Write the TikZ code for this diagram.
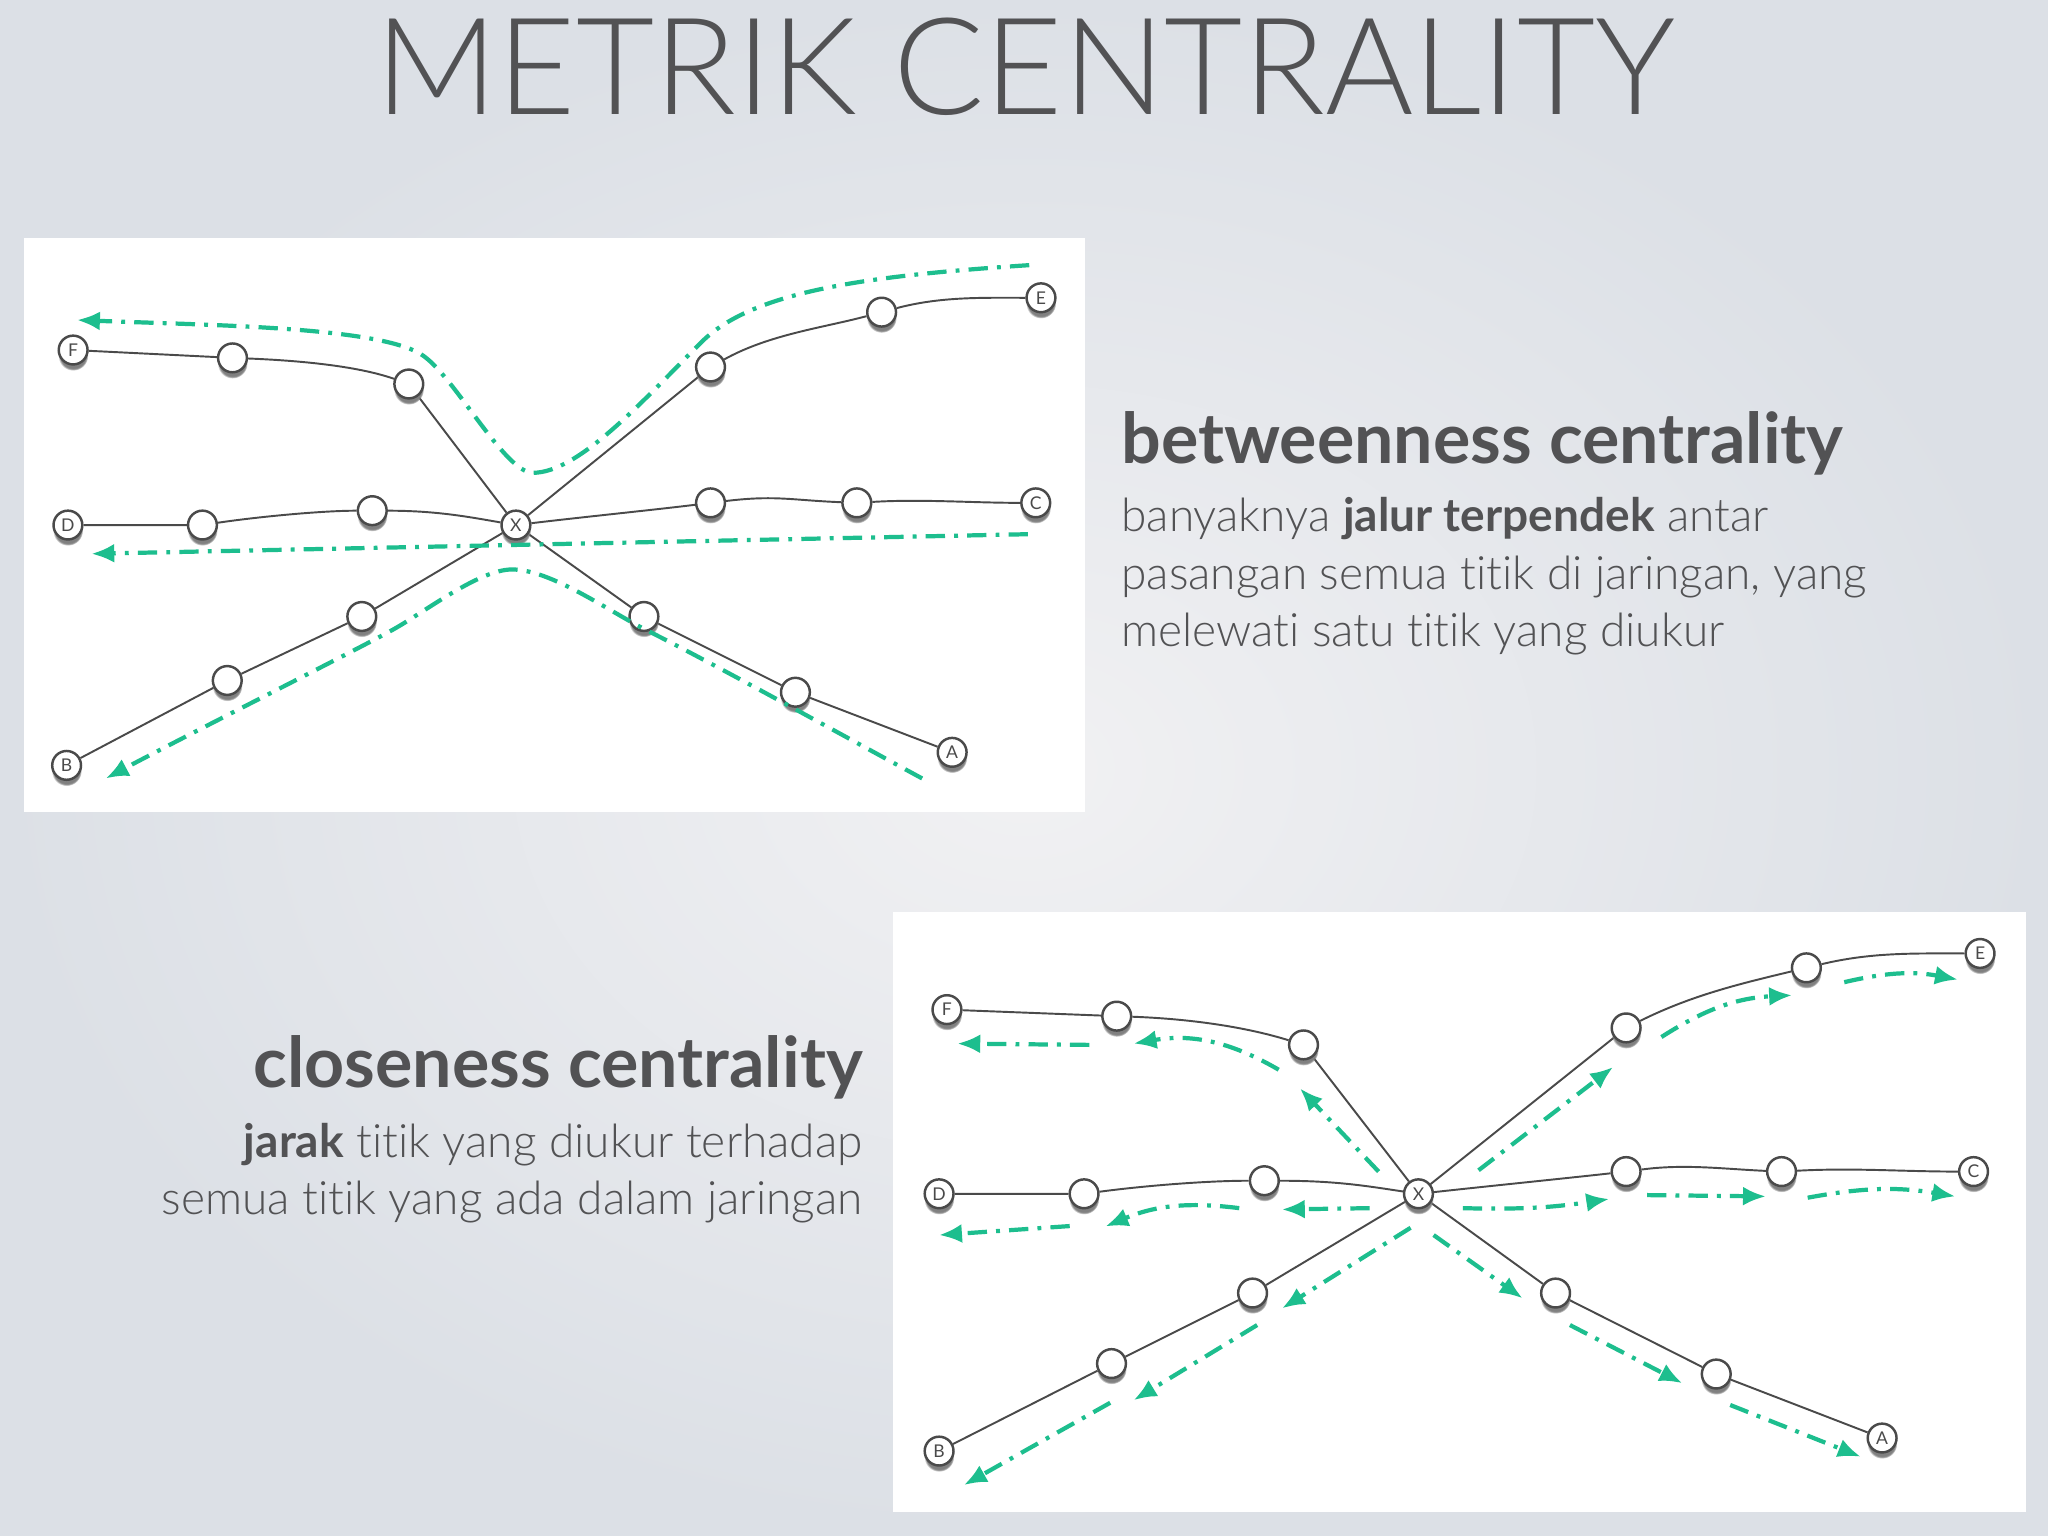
\documentclass[tikz,border=0pt]{standalone}
\usepackage{fontspec}
\setmainfont{Lato}[UprightFont={* Light},BoldFont={* Bold},Ligatures=NoCommon]
\newfontfamily\labelfont{Lato}
\usetikzlibrary{arrows.meta,shadows,backgrounds}

\definecolor{inkgray}{HTML}{525254}
\definecolor{linkgray}{HTML}{4A4A4A}
\definecolor{flowgreen}{HTML}{1DBE8E}
\definecolor{bgin}{HTML}{F1F1F3}
\definecolor{bgout}{HTML}{DCE0E6}

\begin{document}
\begin{tikzpicture}[
	x=0.0130612cm, y=-0.0130612cm,
	lbl/.style={draw=linkgray, fill=white, circle, line width=0.7pt, minimum size=8.2pt, inner sep=0pt, font=\labelfont\fontsize{5}{5}\selectfont, text=linkgray, circular drop shadow={shadow xshift=0pt, shadow yshift=-1.5pt, shadow scale=1.05}},
	hop/.style={lbl},
	link/.style={draw=linkgray, line width=0.55pt},
	flow/.style={draw=flowgreen, line width=1.2pt, dash pattern=on 5.5pt off 2.6pt on 1.1pt off 2.6pt, -{Latex[length=6.5pt,width=5.4pt]}},
	panel/.style={fill=white, draw=none},
	titletext/.style={font=\fontsize{38.4}{40}\selectfont, text=inkgray, inner sep=0pt},
	headtext/.style={font=\bfseries\fontsize{19.9}{21}\selectfont, text=inkgray, inner sep=0pt},
	bodytext/.style={font=\fontsize{13.1}{15}\selectfont, text=inkgray, inner sep=0pt},
	]
	
	\useasboundingbox (0,0) rectangle (1568,1176);
	
	% Slide background and the two white panels
	\begin{scope}[on background layer]
		\shade[inner color=bgin, outer color=bgout] (0,0) rectangle (1568,1176);
		\fill[panel] (18,182) rectangle (831,622);
		\fill[panel] (684,698) rectangle (1551,1158);
	\end{scope}
	
	% Title
	\node[titletext, anchor=base] (title) at (785,88) {METRIK CENTRALITY};
	
	% Top network (betweenness)
	\node[lbl] (tX) at (395,402) {X};
	\node[lbl] (tF) at (56,268) {F};
	\node[hop] (tF1) at (313,294) {};
	\node[hop] (tF2) at (178,274) {};
	\node[lbl] (tD) at (52,402) {D};
	\node[hop] (tD1) at (285,391) {};
	\node[hop] (tD2) at (155,402) {};
	\node[lbl] (tE) at (797,228) {E};
	\node[hop] (tE1) at (544,281) {};
	\node[hop] (tE2) at (675,239) {};
	\node[lbl] (tC) at (793,385) {C};
	\node[hop] (tC1) at (544,385) {};
	\node[hop] (tC2) at (656,385) {};
	\node[lbl] (tB) at (51,586) {B};
	\node[hop] (tB1) at (277,472) {};
	\node[hop] (tB2) at (174,521) {};
	\node[lbl] (tA) at (729,576) {A};
	\node[hop] (tA1) at (493,472) {};
	\node[hop] (tA2) at (609,530) {};
	
	\begin{scope}[on background layer]
		\draw[link] (tF) -- (tF2) .. controls +(50,2) and +(-40,-14) .. (tF1) -- (tX);
		\draw[link] (tD) -- (tD2) .. controls +(40,-6) and +(-40,0) .. (tD1) .. controls +(50,0) and +(-35,-6) .. (tX);
		\draw[link] (tX) .. controls +(50,-6) and +(-40,5) .. (tC1) .. controls +(50,-6) and +(-50,-2) .. (tC2) .. controls +(50,-3) and +(-50,0) .. (tC);
		\draw[link] (tX) -- (tE1) .. controls +(45,-25) and +(-45,12) .. (tE2) .. controls +(45,-12) and +(-45,0) .. (tE);
		\draw[link] (tX) -- (tB1) -- (tB2) -- (tB);
		\draw[link] (tX) -- (tA1) -- (tA2) -- (tA);
	\end{scope}
	
	% Shortest paths running through X
	\coordinate (feStart) at (788,203);
	\coordinate (feEnd) at (59,245);
	\coordinate (cdStart) at (787,409);
	\coordinate (cdEnd) at (70,424);
	\coordinate (abStart) at (706,596);
	\coordinate (abEnd) at (81,596);
	\draw[flow] (feStart) .. controls +(-120,8) and +(40,-40) .. (537,262)
		.. controls +(-45,45) and +(35,0) .. (408,362)
		.. controls +(-22,0) and +(25,15) .. (322,271)
		.. controls +(-35,-21) and +(100,4) .. (feEnd);
	\draw[flow] (cdStart) -- (cdEnd);
	\draw[flow] (abStart) .. controls +(-70,-38) and +(50,25) .. (496,483)
		.. controls +(-30,-15) and +(30,0) .. (392,436)
		.. controls +(-25,0) and +(25,-14) .. (301,482)
		.. controls +(-25,14) and +(60,-32) .. (abEnd);
	
	% Betweenness text
	\node[headtext, anchor=base west] (btwHead) at (858,355) {betweenness centrality};
	\node[bodytext, anchor=base west] (btwL1) at (858,407) {banyaknya \textbf{jalur terpendek} antar};
	\node[bodytext, anchor=base west] (btwL2) at (858,451) {pasangan semua titik di jaringan, yang};
	\node[bodytext, anchor=base west] (btwL3) at (858,495) {melewati satu titik yang diukur};
	
	% Closeness text
	\node[headtext, anchor=base east] (cloHead) at (661,833) {closeness centrality};
	\node[bodytext, anchor=base east] (cloL1) at (661,886) {\textbf{jarak} titik yang diukur terhadap};
	\node[bodytext, anchor=base east] (cloL2) at (661,930) {semua titik yang ada dalam jaringan};
	
	% Bottom network (closeness)
	\node[lbl] (bX) at (1086,914) {X};
	\node[lbl] (bF) at (725,773) {F};
	\node[hop] (bF1) at (998,800) {};
	\node[hop] (bF2) at (855,778) {};
	\node[lbl] (bD) at (719,914) {D};
	\node[hop] (bD1) at (968,904) {};
	\node[hop] (bD2) at (830,914) {};
	\node[lbl] (bE) at (1516,730) {E};
	\node[hop] (bE1) at (1245,787) {};
	\node[hop] (bE2) at (1383,741) {};
	\node[lbl] (bC) at (1511,897) {C};
	\node[hop] (bC1) at (1245,897) {};
	\node[hop] (bC2) at (1364,897) {};
	\node[lbl] (bB) at (719,1111) {B};
	\node[hop] (bB1) at (959,990) {};
	\node[hop] (bB2) at (851,1044) {};
	\node[lbl] (bA) at (1441,1101) {A};
	\node[hop] (bA1) at (1191,990) {};
	\node[hop] (bA2) at (1314,1052) {};
	
	\begin{scope}[on background layer]
		\draw[link] (bF) -- (bF2) .. controls +(55,2) and +(-45,-14) .. (bF1) -- (bX);
		\draw[link] (bD) -- (bD2) .. controls +(45,-6) and +(-45,0) .. (bD1) .. controls +(55,0) and +(-40,-6) .. (bX);
		\draw[link] (bX) .. controls +(55,-6) and +(-45,5) .. (bC1) .. controls +(45,-6) and +(-45,-2) .. (bC2) .. controls +(55,-3) and +(-55,0) .. (bC);
		\draw[link] (bX) -- (bE1) .. controls +(50,-25) and +(-50,12) .. (bE2) .. controls +(50,-12) and +(-50,0) .. (bE);
		\draw[link] (bX) -- (bB1) -- (bB2) -- (bB);
		\draw[link] (bX) -- (bA1) -- (bA2) -- (bA);
	\end{scope}
	
	% Distances from X outwards, hop by hop
	\foreach \s/\sx/\sy/\e/\ex/\ey/\b in {
		bX/-30.5/-17/bF1/-2.7/33.3/0, bF1/-19/19/bF2/13/21/-20, bF2/-21/22/bF/8/26/0,
		bX/-37.4/11/bD1/13.5/22/0, bD1/-19.2/21/bD2/16.4/25/-15, bD2/-11/24.7/bD/0/31.6/0,
		bX/-6/26/bB1/22.6/11.7/0, bB1/3.5/24.5/bB2/17/28/0, bB2/-1/30/bB/19/26/0,
		bX/11.6/31.6/bA1/-25.3/4/0, bA1/11/24.5/bA2/-26/7/0, bA2/10.7/23.7/bA/-16.4/14.3/0,
		bX/34/11/bC1/-13/21/-5, bC1/16/18/bC2/-12/19/0, bC2/20/20/bC/-14/19/10,
		bX/46/-18/bE1/-10/30/0, bE1/27/7/bE2/-11/21/15, bE2/29/11/bE/-17/20/12}
	\draw[flow] ([shift={(\sx,\sy)}]\s.center) to[bend left=\b] ([shift={(\ex,\ey)}]\e.center);
	
\end{tikzpicture}
\end{document}
